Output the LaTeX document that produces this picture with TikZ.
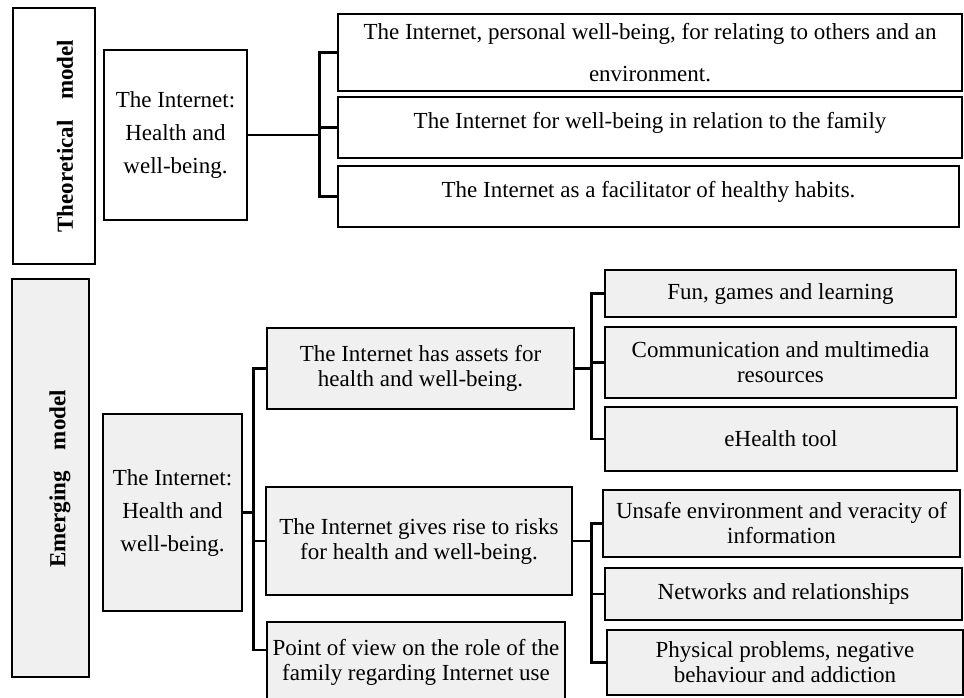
\documentclass[tikz,border=0pt]{standalone}
\usepackage{fontspec}
\setmainfont{Liberation Serif}
\usepackage{tikz}
\usetikzlibrary{calc}
\definecolor{boxgray}{RGB}{240,240,240}

\begin{document}
\begin{tikzpicture}[x=1pt,y=-1pt,font=\fontsize{23}{25}\selectfont,
        modelbox/.style={draw,line width=1.3pt,inner sep=0pt},
        modellabel/.style={rotate=90,font=\fontsize{23}{25}\selectfont\bfseries},
        topic/.style={draw,line width=2.6pt,align=center,inner sep=2pt},
        hub/.style={topic,font=\fontsize{23}{33}\selectfont},
        conn/.style={line width=2.4pt,line cap=rect},
        hv/.style={to path={|- (\tikztotarget)}}]
    \useasboundingbox (0,0) rectangle (964,697);
    % theoretical model
    \node[modelbox,minimum width=82pt,minimum height=256pt] (theo) at (54,136) {};
    \node[modellabel] (theolbl) at (65,136) {Theoretical\hspace{0.9em}model};
    \node[hub,minimum width=143pt,minimum height=170pt] (theohub) at (175.5,135) {The Internet:\\ Health and\\ well-being.};
    \node[topic,minimum width=624pt,minimum height=77pt,font=\fontsize{23}{42}\selectfont] (personal) at (650,52.5)
        {The Internet, personal well-being, for relating to others and an\\ environment.};
    \node[topic,minimum width=624pt,minimum height=61pt,text depth=15pt] (family) at (650,127.5)
        {The Internet for well-being in relation to the family};
    \node[topic,minimum width=621pt,minimum height=61pt,text depth=15pt] (habits) at (648.5,196.5)
        {The Internet as a facilitator of healthy habits.};
    \coordinate (tbus) at ([xshift=71pt]theohub.east);
    \path[conn]
        (theohub.east) edge (tbus)
        (tbus)
            edge[hv] (personal.west)
            edge[hv] (family.west)
            edge[hv] (habits.west);
    % emerging model
    \node[modelbox,fill=boxgray,minimum width=77pt,minimum height=398pt] (emer) at (50.5,478) {};
    \node[modellabel] (emerlbl) at (60,479) {Emerging\hspace{0.9em}model};
    \node[hub,fill=boxgray,minimum width=139pt,minimum height=197pt] (emerhub) at (172.5,512.5) {The Internet:\\ Health and\\ well-being.};
    \node[topic,fill=boxgray,minimum width=307pt,minimum height=81pt] (assets) at (420.5,368.5)
        {The Internet has assets for\\ health and well-being.};
    \node[topic,fill=boxgray,minimum width=306pt,minimum height=108pt] (risks) at (419,541)
        {The Internet gives rise to risks\\ for health and well-being.};
    \node[topic,fill=boxgray,minimum width=298pt,minimum height=80pt] (point) at (416,662)
        {Point of view on the role of the\\ family regarding Internet use};
    \node[topic,fill=boxgray,minimum width=351pt,minimum height=47pt] (fun) at (780.5,293.5) {Fun, games and learning};
    \node[topic,fill=boxgray,minimum width=351pt,minimum height=71pt] (comm) at (780.5,362.5)
        {Communication and multimedia\\ resources};
    \node[topic,fill=boxgray,minimum width=352pt,minimum height=64pt] (ehealth) at (781,439) {eHealth tool};
    \node[topic,fill=boxgray,minimum width=357pt,minimum height=67pt] (unsafe) at (781.5,523.5)
        {Unsafe environment and veracity of\\ information};
    \node[topic,fill=boxgray,minimum width=357pt,minimum height=52pt] (networks) at (783.5,594)
        {Networks and relationships};
    \node[topic,fill=boxgray,minimum width=356pt,minimum height=65pt] (physical) at (785,662.5)
        {Physical problems, negative\\ behaviour and addiction};
    \coordinate (ebus) at ([xshift=10pt]emerhub.east);
    \coordinate (abus) at ([xshift=16pt]assets.east);
    \coordinate (rbus) at ([xshift=18pt]risks.east);
    \path[conn]
        (emerhub.east) edge (ebus)
        (ebus)
            edge[hv] (assets.west)
            edge[hv] (risks.west)
            edge[hv] ([yshift=12pt]point.west)
        (assets.east) edge (abus)
        (abus)
            edge[hv] (fun.west)
            edge[hv] (comm.west)
            edge[hv] (ehealth.west)
        (risks.east) edge (rbus)
        (rbus)
            edge[hv] (unsafe.west)
            edge[hv] (networks.west)
            edge[hv] (physical.west);
\end{tikzpicture}
\end{document}
